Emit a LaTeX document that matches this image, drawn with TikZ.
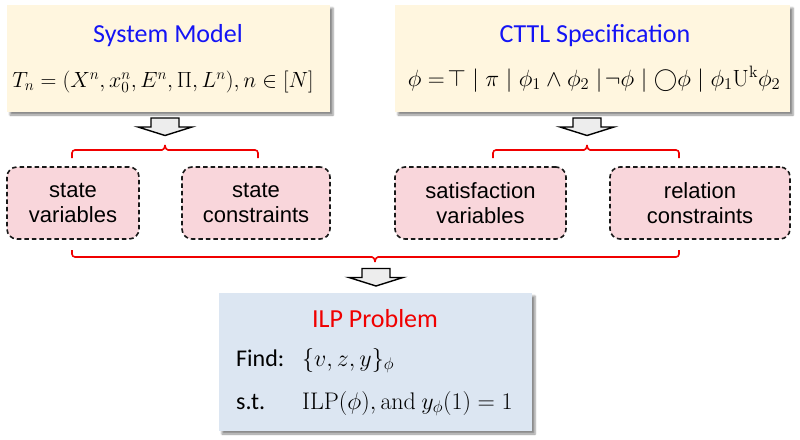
\RequirePackage{fix-cm}
\documentclass[tikz,border=0pt]{standalone}
\usepackage[no-math]{fontspec}
\setmainfont{Carlito}
\newfontfamily\arialf{Liberation Sans}
\usetikzlibrary{shadows.blur}
\definecolor{cream}{HTML}{FFF6DF}
\definecolor{pinkbox}{HTML}{F9D6DB}
\definecolor{bluebox}{HTML}{DCE6F2}
\definecolor{titleblue}{HTML}{1414F5}
\definecolor{bracered}{HTML}{F00000}
\begin{document}
\begin{tikzpicture}[x=1pt,y=-1pt,
  panel/.style={draw=none, rectangle, inner sep=0pt,
    blur shadow={shadow xshift=3pt, shadow yshift=-3pt, shadow blur steps=4, shadow opacity=45}},
  topbox/.style={panel, fill=cream},
  ilpbox/.style={panel, fill=bluebox},
  itembox/.style={draw=black!90, dash pattern=on 4.5pt off 3pt, line width=1.6pt, fill=pinkbox,
    rounded corners=10pt, minimum height=72pt, inner sep=0pt, align=center,
    font=\arialf\fontsize{22}{25}\selectfont},
  title/.style={anchor=base, inner sep=0pt, font=\fontsize{26}{30}\selectfont},
  formula/.style={anchor=base, inner sep=0pt, font=\fontsize{22}{26}\selectfont},
  bigformula/.style={anchor=base, inner sep=0pt, font=\fontsize{23.5}{28}\selectfont},
  ilpformula/.style={anchor=base west, inner sep=0pt, font=\fontsize{24}{28}\selectfont},
  lefttext/.style={anchor=base west, inner sep=0pt, font=\fontsize{24}{28}\selectfont},
  bracestyle/.style={draw=bracered, line width=1.6pt, rounded corners=3pt},
  arrowstyle/.style={draw=black, line width=1.4pt, fill=black!7, line join=miter},
  barrow/.pic={\draw[arrowstyle] (-14,0) -- (14,0) -- (14,9) -- (27,9) -- (0,17.5) -- (-27,9) -- (-14,9) -- cycle;}
]
\useasboundingbox (0,0) rectangle (800,439);

% top boxes
\node[topbox, minimum width=323pt, minimum height=107pt] (sm) at (168.5,58.5) {};
\node[topbox, minimum width=395pt, minimum height=107pt] (cs) at (592.5,58.5) {};
\node[title, text=titleblue] (smt) at (168,42) {System Model};
\node[formula] (smf) at (163,87) {$T_n = \bigl(X^n, x_0^n, E^n, \Pi, L^n\bigr), n \in [N]$};
\node[title, text=titleblue] (cst) at (595,42) {CTTL Specification};
\node[bigformula] (csf) at (594,86) {$\phi = \!\top \mid \pi \mid \phi_1 \wedge \phi_2 \mid\! \neg\phi \mathrel{\big|} \bigcirc\phi \mathrel{\big|} \phi_1 \mathrm{U}^{\mathrm{k}} \phi_2$};

% block arrows
\pic at (165,118) {barrow};
\pic at (587,118) {barrow};
\pic at (376,268.5) {barrow};

% braces
\draw[bracestyle] (72,158) -- (72,150) -- (159,150)
  .. controls (163,150) and (165,148) .. (165,143)
  .. controls (165,148) and (167,150) .. (171,150) -- (258,150) -- (258,158);
\draw[bracestyle] (493,158) -- (493,150) -- (581,150)
  .. controls (585,150) and (587,148) .. (587,143)
  .. controls (587,148) and (589,150) .. (593,150) -- (679,150) -- (679,158);
\draw[bracestyle] (72,250) -- (72,257) -- (369,257)
  .. controls (373,257) and (375,259) .. (375,264)
  .. controls (375,259) and (377,257) .. (381,257) -- (679,257) -- (679,250);

% item boxes
\node[itembox, minimum width=132pt] (sv) at (73,203) {state\\variables};
\node[itembox, minimum width=148pt] (sc) at (256,203) {state\\constraints};
\node[itembox, minimum width=171pt] (sfv) at (480.5,203) {satisfaction\\variables};
\node[itembox, minimum width=180pt] (rc) at (700,203) {relation\\constraints};

% ILP box
\node[ilpbox, minimum width=313pt, minimum height=138pt] (ilp) at (375.5,362) {};
\node[title, text=bracered] (ilpt) at (375,327) {ILP Problem};
\node[lefttext] (find) at (236,366) {Find:};
\node[ilpformula] (findm) at (302,366) {$\{v, z, y\}_{\phi}$};
\node[lefttext] (st) at (236,409) {s.t.};
\node[ilpformula] (stm) at (302,409) {$\mathrm{ILP}(\phi), \mathrm{and}\ y_{\phi}(1) = 1$};
\end{tikzpicture}
\end{document}
